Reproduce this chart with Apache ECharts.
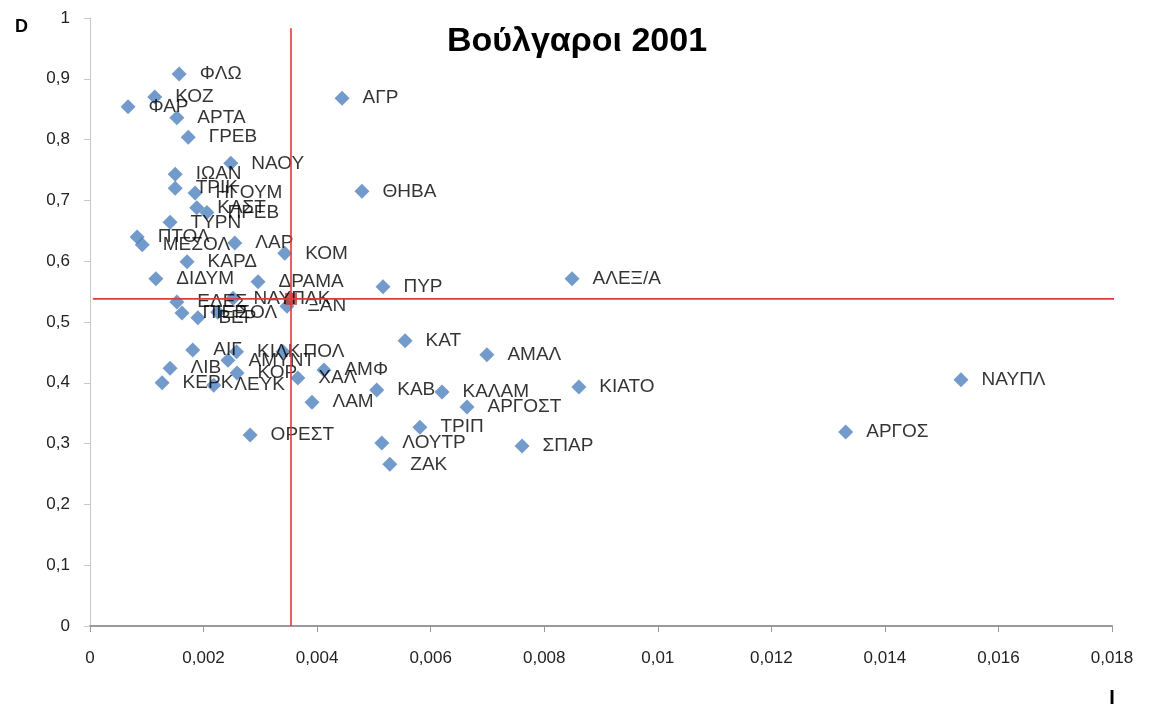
<!DOCTYPE html>
<html>
<head>
<meta charset="utf-8">
<script src="https://cdn.jsdelivr.net/npm/echarts@6/dist/echarts.min.js"></script>
<style>
  html, body { margin: 0; padding: 0; background: #fff; }
  #main { width: 1149px; height: 711px; }
</style>
</head>
<body>
<div id="main"></div>
<script>
// ονόματα πόλεων και τιμές I (x), D (y)
var names = ['ΦΛΩ','ΚΟΖ','ΦΑΡ','ΑΡΤΑ','ΓΡΕΒ','ΝΑΟΥ','ΙΩΑΝ','ΤΡΙΚ','ΗΓΟΥΜ','ΚΑΣΤ','ΠΡΕΒ','ΤΥΡΝ',
  'ΠΤΟΛ','ΜΕΣΟΛ','ΚΑΡΔ','ΛΑΡ','ΚΟΜ','ΔΙΔΥΜ','ΔΡΑΜΑ','ΠΥΡ','ΑΛΕΞ/Α','ΝΑΥΠΑΚ','ΕΔΕΣ','ΠΙΕΡ',
  'ΒΕΡ','ΣΟΛ','ΞΑΝ','ΑΙΓ','ΛΙΒ','ΚΕΡΚ','ΛΕΥΚ','ΑΜΥΝΤ','ΚΙΛΚ','ΠΟΛ','ΚΟΡ','ΧΑΛ','ΑΜΦ',
  'ΚΑΤ','ΑΜΑΛ','ΚΙΑΤΟ','ΚΑΒ','ΚΑΛΑΜ','ΑΡΓΟΣΤ','ΤΡΙΠ','ΛΟΥΤΡ','ΖΑΚ','ΣΠΑΡ','ΛΑΜ','ΟΡΕΣΤ',
  'ΝΑΥΠΛ','ΑΡΓΟΣ','ΑΓΡ','ΘΗΒΑ'];
var xVals = [0.00157,0.00114,0.00067,0.00153,0.00173,0.00248,0.0015,0.0015,0.00185,0.00188,0.00206,0.00141,
  0.00083,0.00092,0.00171,0.00255,0.00343,0.00116,0.00296,0.00516,0.00849,0.00252,0.00153,0.00162,
  0.0019,0.00225,0.00347,0.00181,0.00141,0.00127,0.00218,0.00243,0.00258,0.0034,0.00259,0.00366,0.00412,
  0.00555,0.00699,0.00861,0.00505,0.0062,0.00664,0.00581,0.00514,0.00528,0.00761,0.00391,0.00282,
  0.01534,0.01331,0.00444,0.00479];
var yVals = [0.908,0.87,0.854,0.836,0.804,0.761,0.743,0.72,0.712,0.688,0.68,0.664,
  0.64,0.627,0.599,0.63,0.613,0.571,0.566,0.558,0.571,0.539,0.533,0.515,
  0.507,0.516,0.526,0.454,0.424,0.4,0.396,0.437,0.451,0.451,0.416,0.408,0.421,
  0.469,0.446,0.393,0.388,0.385,0.36,0.327,0.301,0.266,0.296,0.368,0.314,
  0.405,0.319,0.868,0.715];
var meanPoint = [0.00354, 0.538];
var xTicks = [0, 0.018, 0.002];
var yTicks = [0, 1, 0.1];

var points = names.map(function (n, i) { return { name: n, value: [xVals[i], yVals[i]] }; });

function comma(v) {
  return String(Number(v.toFixed(4))).replace('.', ',');
}

var myChart = echarts.init(document.getElementById('main'));
var option = {
  animation: false,
  textStyle: { fontFamily: 'Liberation Sans' },
  title: {
    text: 'Βούλγαροι 2001',
    left: 572, top: 20, textAlign: 'center',
    textStyle: { fontSize: 34, fontWeight: 'bold', color: '#000', fontFamily: 'Liberation Sans' }
  },
  grid: { left: 90, right: 37, top: 18, bottom: 85 },
  xAxis: {
    type: 'value', min: xTicks[0], max: xTicks[1], interval: xTicks[2],
    name: 'I', nameLocation: 'end', nameGap: 0,
    nameTextStyle: { fontSize: 20, fontWeight: 'bold', color: '#000', padding: [62, 0, 0, 0], verticalAlign: 'top', align: 'center' },
    axisLine: { lineStyle: { color: '#9a9a9a', width: 2 } },
    axisTick: { show: true, inside: false, length: 6, lineStyle: { color: '#9a9a9a' } },
    axisLabel: { formatter: comma, fontSize: 17, color: '#222', margin: 24 },
    splitLine: { show: false }
  },
  yAxis: {
    type: 'value', min: yTicks[0], max: yTicks[1], interval: yTicks[2],
    name: 'D', nameLocation: 'end', nameGap: 0,
    nameTextStyle: { fontSize: 18, fontWeight: 'bold', color: '#000', align: 'right', padding: [0, 62, -18, 0] },
    axisLine: { show: true, lineStyle: { color: '#c8c8c8', width: 1 } },
    axisTick: { show: true, inside: false, length: 6, lineStyle: { color: '#c8c8c8' } },
    axisLabel: { formatter: comma, fontSize: 17, color: '#222', margin: 20 },
    splitLine: { show: false }
  },
  series: [
    {
      type: 'line',
      data: [[meanPoint[0], 0], [meanPoint[0], 0.983]],
      symbol: 'none', clip: false, silent: true,
      lineStyle: { color: '#e03a3e', width: 1.6 }
    },
    {
      type: 'line',
      data: [[0.00005, meanPoint[1]], [0.0181, meanPoint[1]]],
      symbol: 'none', clip: false, silent: true,
      lineStyle: { color: '#e03a3e', width: 1.6 }
    },
    {
      type: 'scatter',
      data: points,
      symbol: 'diamond', symbolSize: 15,
      itemStyle: { color: '#4f81bd' },
      label: {
        show: true, position: 'right', distance: 13,
        formatter: '{b}', fontSize: 19, color: '#000', fontFamily: 'Liberation Sans'
      }
    },
    {
      type: 'scatter',
      data: [meanPoint],
      symbol: 'rect', symbolSize: 12,
      itemStyle: { color: '#c0392b' }
    }
  ]
};
myChart.setOption(option);
</script>
</body>
</html>
